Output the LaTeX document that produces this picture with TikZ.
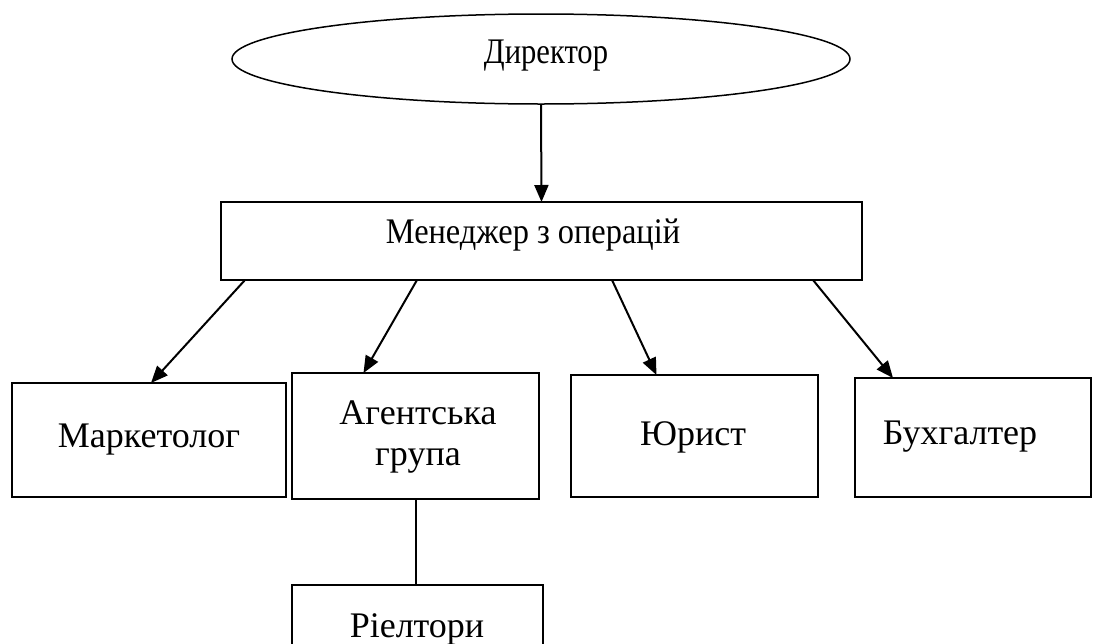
\documentclass[tikz,border=0pt]{standalone}
\usepackage{fontspec}
\usepackage{graphicx}
\setmainfont{Liberation Serif}
\usetikzlibrary{arrows.meta,shapes.geometric,calc}
\begin{document}
\begin{tikzpicture}[x=1pt,y=-1pt,
  box/.style={draw,line width=2pt,rectangle,inner sep=0pt,outer sep=0pt},
  lbl/.style={font=\fontsize{36}{41}\selectfont,align=center,inner sep=0pt},
  arr/.style={line width=2pt,-{Triangle[length=17pt,width=14pt]}}]
\useasboundingbox (0,0) rectangle (1093,643);
\clip (0,0) rectangle (1093,643);
\node[ellipse,draw,line width=1.5pt,minimum width=618pt,minimum height=90pt,inner sep=0pt,outer sep=0pt] (dir) at (541,59) {};
\node[lbl] (dirt) at (546,56) {\scalebox{0.85}[1]{Директор}};
\node[box,minimum width=641pt,minimum height=78pt] (mgr) at (541.5,241) {};
\node[lbl] (mgrt) at (533,235) {\scalebox{0.9}[1]{Менеджер з операцій}};
\node[box,minimum width=274pt,minimum height=114pt] (mark) at (149,440) {};
\node[lbl] (markt) at (149,440) {Маркетолог};
\node[box,minimum width=247pt,minimum height=126pt] (agent) at (415.5,436) {};
\node[lbl] (agentt) at (418,437) {Агентська\\група};
\node[box,minimum width=247pt,minimum height=122pt] (jur) at (694.5,436) {};
\node[lbl] (jurt) at (693,437) {Юрист};
\node[box,minimum width=236pt,minimum height=119pt] (buh) at (973,437.5) {};
\node[lbl] (buht) at (960,437) {Бухгалтер};
\node[box,minimum width=251pt,minimum height=120pt] (riel) at (417.5,645) {};
\node[lbl] (rielt) at (417,629) {Ріелтори};
\draw[arr] (dir.south) -- (mgr.north);
\draw[arr] ([xshift=24pt]mgr.south west) -- ([xshift=2pt]mark.north);
\draw[arr] ([xshift=196pt]mgr.south west) -- ([xshift=-52pt]agent.north);
\draw[arr] ([xshift=391pt]mgr.south west) -- ([xshift=-38pt]jur.north);
\draw[arr] ([xshift=592pt]mgr.south west) -- ([xshift=-80pt]buh.north);
\draw[line width=2pt] (agent.south) -- (agent.south |- riel.north);
\end{tikzpicture}
\end{document}
